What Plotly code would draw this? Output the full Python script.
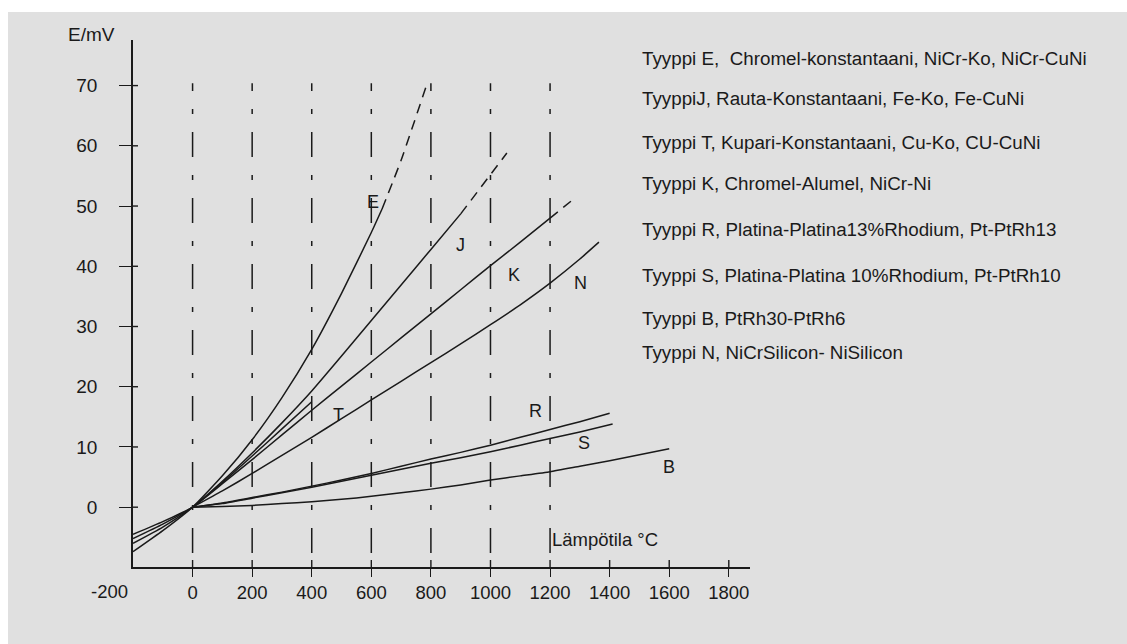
import plotly.graph_objects as go

# ---------------- data ----------------
temps_E = [-200, -100, 0, 100, 200, 300, 400, 500, 600, 636]
emf_E = [-7.4, -3.9, 0, 5.2, 11.2, 18.2, 26.2, 35.5, 45.6, 49.5]
temps_E_ext = [636, 700, 785]
emf_E_ext = [49.5, 57.6, 70.0]

temps_J = [-200, -100, 0, 100, 200, 300, 400, 500, 600, 700, 800, 900]
emf_J = [-6.0, -3.3, 0, 4.3, 9.0, 14.0, 19.3, 25.1, 31.0, 36.9, 42.8, 48.7]
temps_J_ext = [900, 1055]
emf_J_ext = [48.7, 58.8]

temps_T = [-200, -100, 0, 100, 200, 300, 400]
emf_T = [-4.5, -2.4, 0, 4.1, 8.5, 13.0, 17.5]

temps_K = [-200, -100, 0, 100, 200, 300, 400, 500, 600, 700, 800, 900, 1000, 1100, 1200]
emf_K = [-5.2, -2.8, 0, 3.9, 7.9, 12.0, 16.1, 20.1, 24.1, 28.1, 32.1, 36.1, 40.1, 44.0, 48.0]
temps_K_ext = [1200, 1270]
emf_K_ext = [48.0, 50.8]

temps_N = [0, 100, 200, 300, 400, 500, 600, 700, 800, 900, 1000, 1100, 1200, 1300, 1364]
emf_N = [0, 2.7, 5.6, 8.6, 11.6, 14.7, 17.8, 20.9, 24.0, 27.1, 30.3, 33.6, 37.2, 41.2, 44.0]

temps_R = [0, 100, 200, 300, 400, 500, 600, 700, 800, 900, 1000, 1100, 1200, 1300, 1400]
emf_R = [0, 0.7, 1.6, 2.5, 3.5, 4.5, 5.6, 6.8, 8.0, 9.1, 10.3, 11.6, 12.9, 14.2, 15.6]

temps_S = [0, 100, 200, 300, 400, 500, 600, 700, 800, 900, 1000, 1100, 1200, 1300, 1410]
emf_S = [0, 0.6, 1.5, 2.4, 3.3, 4.3, 5.3, 6.3, 7.3, 8.2, 9.2, 10.3, 11.4, 12.5, 13.8]

temps_B = [0, 100, 200, 300, 400, 500, 600, 700, 800, 900, 1000, 1100, 1200, 1300, 1400, 1500, 1600]
emf_B = [0, 0.1, 0.3, 0.6, 0.9, 1.3, 1.8, 2.4, 3.0, 3.7, 4.5, 5.2, 5.9, 6.8, 7.7, 8.7, 9.7]

curve_labels = ["E", "J", "K", "N", "T", "R", "S", "B"]
curve_label_T = [607, 899, 1078, 1302, 490, 1151, 1313, 1600]
curve_label_mV = [50.7, 43.5, 38.6, 37.2, 15.3, 15.9, 10.6, 6.6]

x_tick_vals = [0, 200, 400, 600, 800, 1000, 1200, 1400, 1600, 1800]
x_tick_text = ["0", "200", "400", "600", "800", "1000", "1200", "1400", "1600", "1800"]
x_first_label = "-200"
y_tick_vals = [0, 10, 20, 30, 40, 50, 60, 70]
y_tick_text = ["0", "10", "20", "30", "40", "50", "60", "70"]
grid_temps = [0, 200, 400, 600, 800, 1000, 1200]

legend_lines = [
    "Tyyppi E,  Chromel-konstantaani, NiCr-Ko, NiCr-CuNi",
    "TyyppiJ, Rauta-Konstantaani, Fe-Ko, Fe-CuNi",
    "Tyyppi T, Kupari-Konstantaani, Cu-Ko, CU-CuNi",
    "Tyyppi K, Chromel-Alumel, NiCr-Ni",
    "Tyyppi R, Platina-Platina13%Rhodium, Pt-PtRh13",
    "Tyyppi S, Platina-Platina 10%Rhodium, Pt-PtRh10",
    "Tyyppi B, PtRh30-PtRh6",
    "Tyyppi N, NiCrSilicon- NiSilicon",
]
y_title = "E/mV"
x_title = "Lämpötila °C"

# ---------------- layout geometry (window pixels) ----------------
W_FIG, H_FIG = 1127, 644
ML, MT = 133, 40
PW, PH = 617, 527
MR = W_FIG - ML - PW
MB = H_FIG - MT - PH
X_RANGE = [-200, -200 + PW / 0.2979]
Y_RANGE = [-9.93, -9.93 + PH / 6.023]
GRID_BOTTOM, GRID_TOP = -7.6, 70.4


def px(x):
    """window pixel x -> paper fraction"""
    return (x - ML) / PW


def py(y):
    """window pixel y -> paper fraction"""
    return (MT + PH - y) / PH


INK = "#1a1a1a"
FONT = "Liberation Sans, Arial, Helvetica, sans-serif"

fig = go.Figure()


def add_curve(xs, ys, dash="solid"):
    fig.add_trace(go.Scatter(
        x=xs, y=ys, mode="lines",
        line=dict(color=INK, width=1.5, dash=dash, shape="spline", smoothing=0.5),
        hoverinfo="skip", showlegend=False))


for xs, ys in [(temps_E, emf_E), (temps_J, emf_J), (temps_T, emf_T), (temps_K, emf_K),
               (temps_N, emf_N), (temps_R, emf_R), (temps_S, emf_S), (temps_B, emf_B)]:
    add_curve(xs, ys)
for xs, ys in [(temps_E_ext, emf_E_ext), (temps_J_ext, emf_J_ext), (temps_K_ext, emf_K_ext)]:
    add_curve(xs, ys, dash="10px,7px")

shapes = []
# scanned paper background (white strip at the top and left edge)
shapes.append(dict(type="rect", xref="paper", yref="paper", layer="below",
                   x0=px(8), x1=px(W_FIG + 5), y0=py(H_FIG + 5), y1=py(12),
                   fillcolor="#e0e0e0", line=dict(width=0)))

# dash-dot vertical guide lines
for t in grid_temps:
    shapes.append(dict(type="line", xref="x", yref="y", x0=t, x1=t,
                       y0=GRID_BOTTOM, y1=GRID_TOP,
                       line=dict(color=INK, width=1.5, dash="25px,18px,5px,18px")))
# inner halves of the crossing ticks
for t in x_tick_vals:
    shapes.append(dict(type="line", xref="x", yref="y", ysizemode="pixel",
                       yanchor=Y_RANGE[0], x0=t, x1=t, y0=0, y1=7,
                       line=dict(color=INK, width=1.4)))
for v in y_tick_vals:
    shapes.append(dict(type="line", xref="x", yref="y", xsizemode="pixel",
                       xanchor=X_RANGE[0], y0=v, y1=v, x0=0, x1=5,
                       line=dict(color=INK, width=1.4)))

annotations = []
for lab, t, v in zip(curve_labels, curve_label_T, curve_label_mV):
    annotations.append(dict(x=t, y=v, xref="x", yref="y", text=lab, showarrow=False,
                            font=dict(size=18, color=INK, family=FONT)))
legend_y_px = [58, 98, 142, 183, 229, 275, 318, 352]
for txt, ypx in zip(legend_lines, legend_y_px):
    annotations.append(dict(x=px(640), y=py(ypx), xref="paper", yref="paper", text=txt,
                            showarrow=False, xanchor="left", yanchor="middle",
                            font=dict(size=18.8, color=INK, family=FONT)))
annotations.append(dict(x=px(117), y=py(35), xref="paper", yref="paper", text=y_title,
                        showarrow=False, xanchor="right", yanchor="middle",
                        font=dict(size=19, color=INK, family=FONT)))
annotations.append(dict(x=px(550), y=py(539), xref="paper", yref="paper", text=x_title,
                        showarrow=False, xanchor="left", yanchor="middle",
                        font=dict(size=18.5, color=INK, family=FONT)))
annotations.append(dict(x=px(109), y=py(591), xref="paper", yref="paper", text=x_first_label,
                        showarrow=False, xanchor="center", yanchor="middle",
                        font=dict(size=18.5, color=INK, family=FONT)))

fig.update_layout(
    width=W_FIG, height=H_FIG,
    margin=dict(l=ML, r=MR, t=MT, b=MB, autoexpand=False),
    paper_bgcolor="#ffffff", plot_bgcolor="rgba(0,0,0,0)",
    showlegend=False,
    shapes=shapes, annotations=annotations,
    xaxis=dict(range=X_RANGE, showgrid=False, zeroline=False,
               showline=True, linecolor=INK, linewidth=1.5,
               ticks="outside", ticklen=8, tickwidth=1.4, tickcolor=INK,
               tickmode="array", tickvals=x_tick_vals, ticktext=x_tick_text,
               ticklabelstandoff=0,
               tickfont=dict(size=18.5, color=INK, family=FONT)),
    yaxis=dict(range=Y_RANGE, showgrid=False, zeroline=False,
               showline=True, linecolor=INK, linewidth=1.5,
               ticks="outside", ticklen=12, tickwidth=1.4, tickcolor=INK,
               tickmode="array", tickvals=y_tick_vals, ticktext=y_tick_text,
               ticklabelstandoff=18,
               tickfont=dict(size=19, color=INK, family=FONT)),
)

fig.write_html(
    "out.html",
    config={"displayModeBar": False},
    post_script="document.body.style.margin='0px';document.body.style.overflow='hidden';",
)
